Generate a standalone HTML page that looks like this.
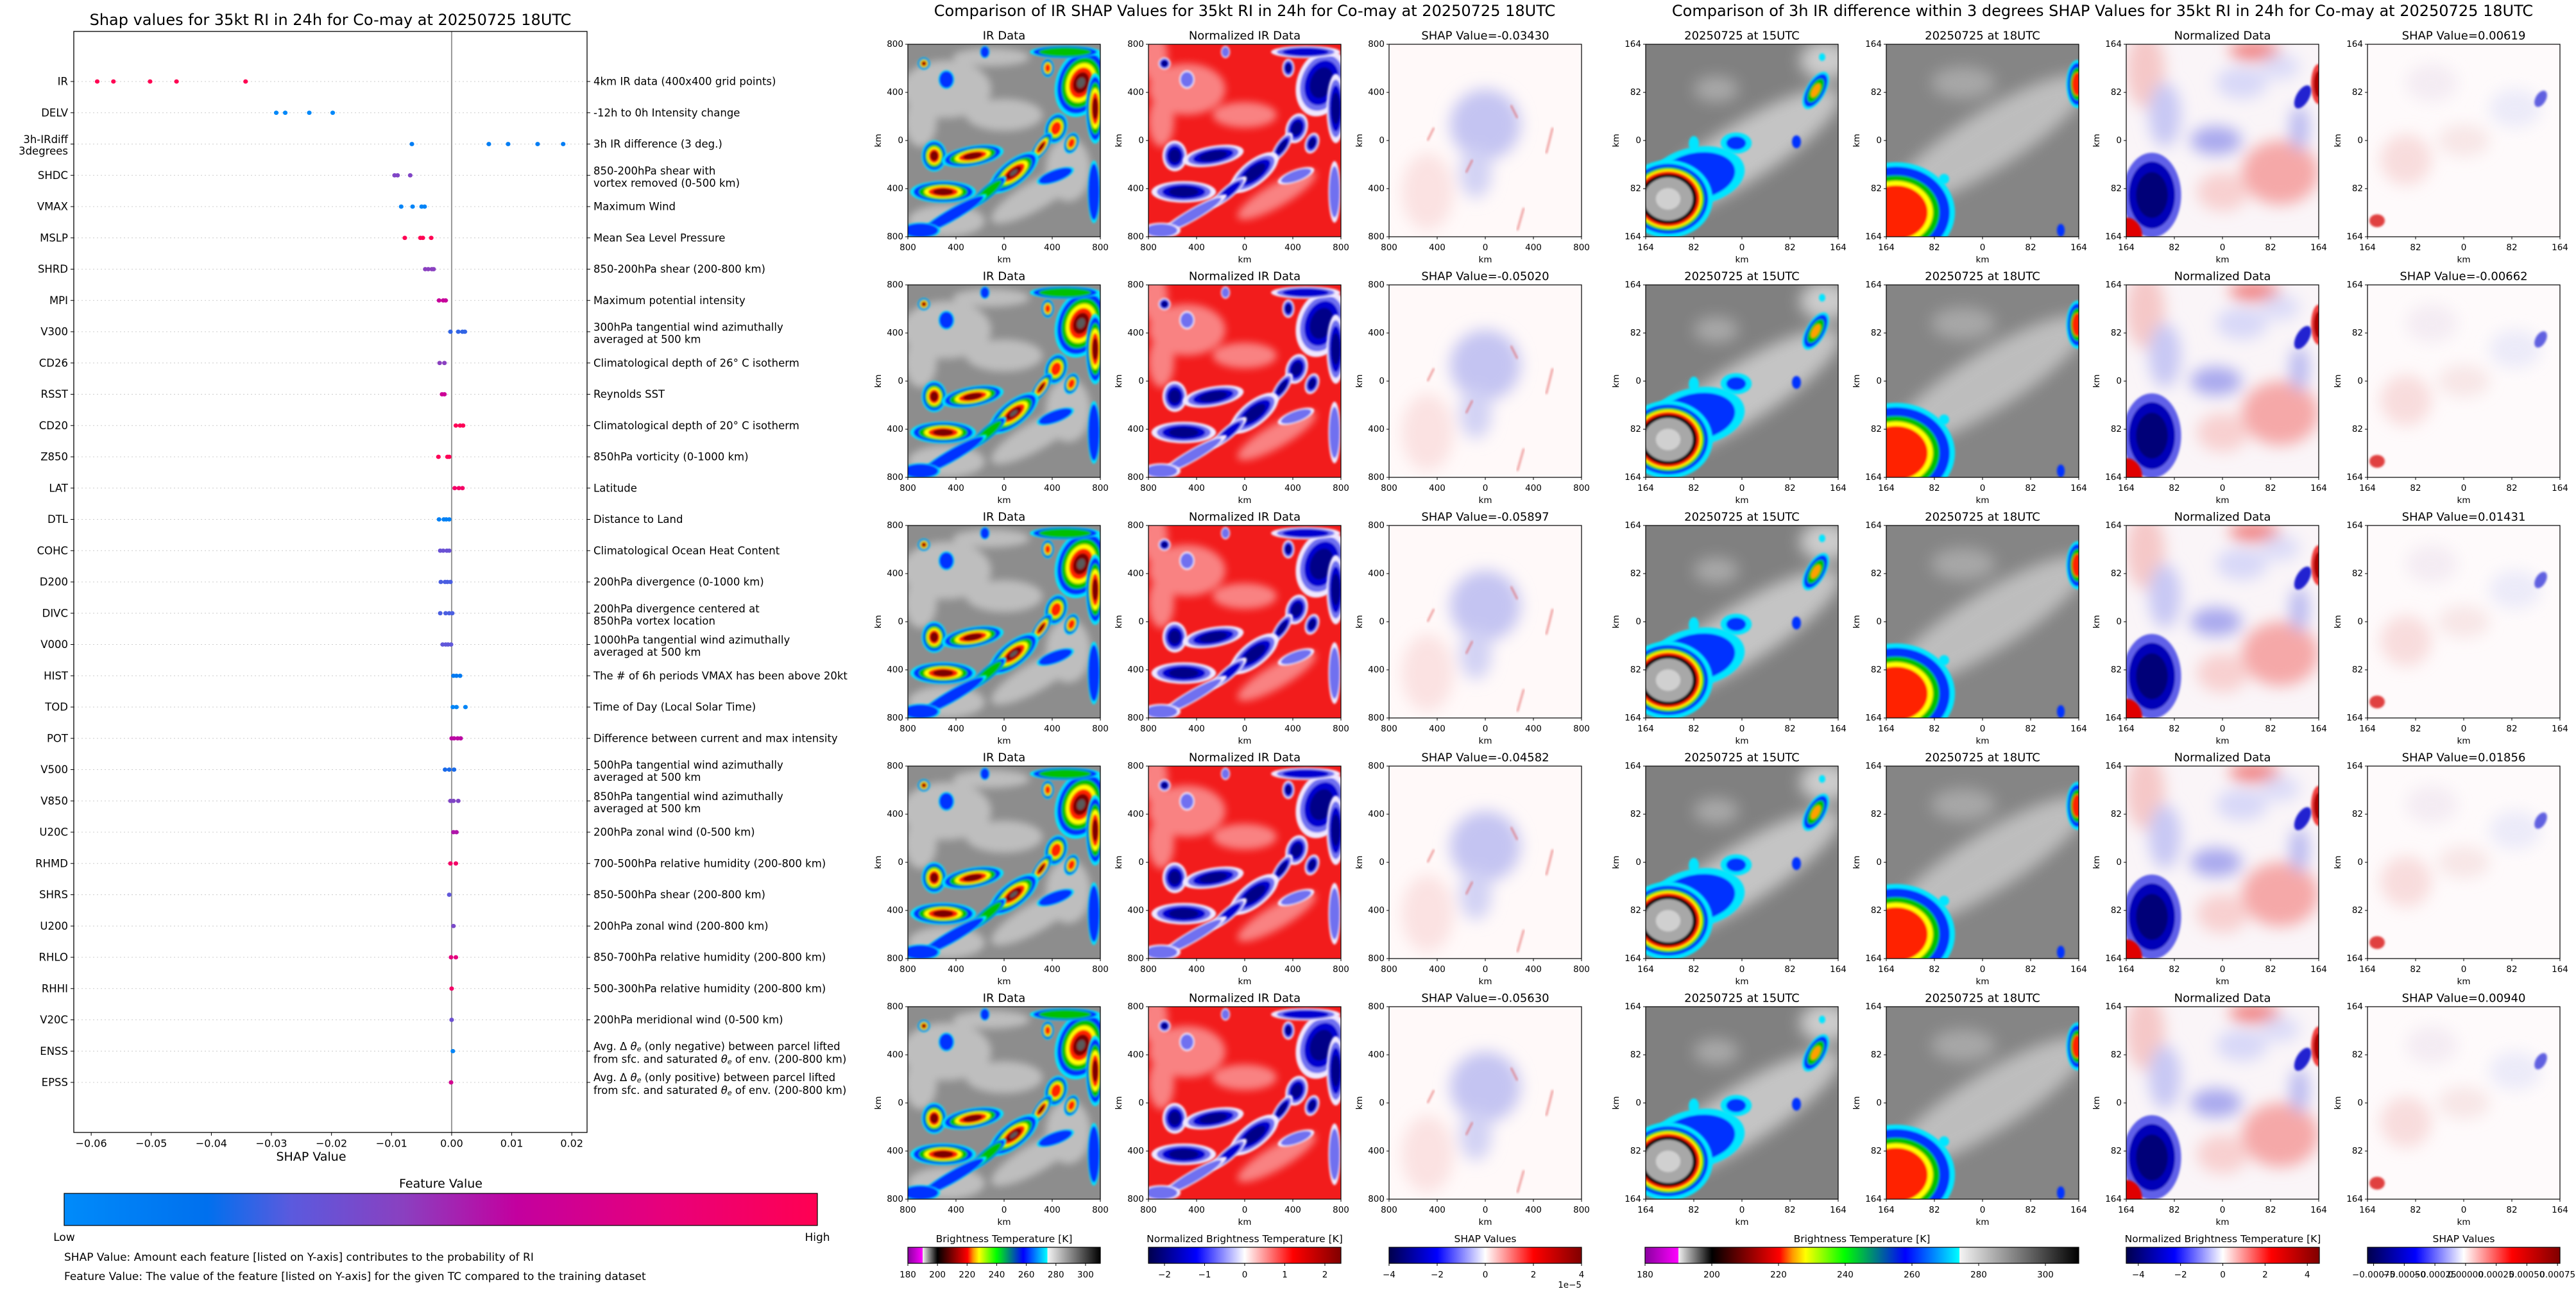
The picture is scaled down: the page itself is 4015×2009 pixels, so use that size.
<!DOCTYPE html>
<html><head><meta charset="utf-8"><title>SHAP RI</title>
<style>
html,body{margin:0;padding:0;background:#fff;}
svg{display:block;font-family:"DejaVu Sans","Liberation Sans",sans-serif;}
text{fill:#000;}
</style></head>
<body>
<svg id="fig" xmlns="http://www.w3.org/2000/svg" width="4015" height="2009" viewBox="0 0 4015 2009">
<defs>
<filter id="b2" x="-20%" y="-20%" width="140%" height="140%"><feGaussianBlur stdDeviation="1.5"/></filter>
<filter id="b6" x="-30%" y="-30%" width="160%" height="160%"><feGaussianBlur stdDeviation="6"/></filter>
<filter id="b12" x="-40%" y="-40%" width="180%" height="180%"><feGaussianBlur stdDeviation="12"/></filter>
<linearGradient id="g-feat" x1="0" x2="1" y1="0" y2="0">
<stop offset="0" stop-color="#008bfa"/><stop offset="0.19" stop-color="#0070ee"/><stop offset="0.3" stop-color="#5a5ade"/><stop offset="0.45" stop-color="#8a40c0"/><stop offset="0.6" stop-color="#c3009f"/><stop offset="0.8" stop-color="#e8007a"/><stop offset="1" stop-color="#ff0052"/>
</linearGradient>
<linearGradient id="g-bt" x1="0" x2="1" y1="0" y2="0">
<stop offset="0" stop-color="#8a00a0"/><stop offset="0.077" stop-color="#ff00ff"/><stop offset="0.077" stop-color="#f0f0f0"/><stop offset="0.154" stop-color="#000"/><stop offset="0.31" stop-color="#ff0000"/><stop offset="0.34" stop-color="#ff9900"/><stop offset="0.37" stop-color="#ffff00"/><stop offset="0.46" stop-color="#00ff00"/><stop offset="0.60" stop-color="#0000ff"/><stop offset="0.725" stop-color="#00ffff"/><stop offset="0.725" stop-color="#f4f4f4"/><stop offset="1" stop-color="#000"/>
</linearGradient>
<linearGradient id="g-seis" x1="0" x2="1" y1="0" y2="0">
<stop offset="0" stop-color="#00004c"/><stop offset="0.25" stop-color="#0000ff"/><stop offset="0.5" stop-color="#ffffff"/><stop offset="0.75" stop-color="#ff0000"/><stop offset="1" stop-color="#800000"/>
</linearGradient>
</defs>
<g id="root"></g>
</svg>
<script>
// ---------- Left SHAP summary chart data ----------
const features = ["IR","DELV","3h-IRdiff|3degrees","SHDC","VMAX","MSLP","SHRD","MPI","V300","CD26","RSST","CD20","Z850","LAT","DTL","COHC","D200","DIVC","V000","HIST","TOD","POT","V500","V850","U20C","RHMD","SHRS","U200","RHLO","RHHI","V20C","ENSS","EPSS"];
const descriptions = ["4km IR data (400x400 grid points)","-12h to 0h Intensity change","3h IR difference (3 deg.)","850-200hPa shear with|vortex removed (0-500 km)","Maximum Wind","Mean Sea Level Pressure","850-200hPa shear (200-800 km)","Maximum potential intensity","300hPa tangential wind azimuthally|averaged at 500 km","Climatological depth of 26° C isotherm","Reynolds SST","Climatological depth of 20° C isotherm","850hPa vorticity (0-1000 km)","Latitude","Distance to Land","Climatological Ocean Heat Content","200hPa divergence (0-1000 km)","200hPa divergence centered at|850hPa vortex location","1000hPa tangential wind azimuthally|averaged at 500 km","The # of 6h periods VMAX has been above 20kt","Time of Day (Local Solar Time)","Difference between current and max intensity","500hPa tangential wind azimuthally|averaged at 500 km","850hPa tangential wind azimuthally|averaged at 500 km","200hPa zonal wind (0-500 km)","700-500hPa relative humidity (200-800 km)","850-500hPa shear (200-800 km)","200hPa zonal wind (200-800 km)","850-700hPa relative humidity (200-800 km)","500-300hPa relative humidity (200-800 km)","200hPa meridional wind (0-500 km)","ENSS","EPSS"];
const shapValues = [
 [-0.0590,-0.0563,-0.0502,-0.0458,-0.0343],
 [-0.0292,-0.0277,-0.0237,-0.0198],
 [-0.00662,0.00619,0.00940,0.01431,0.01856],
 [-0.0095,-0.0090,-0.0069],
 [-0.0084,-0.0065,-0.0050,-0.0045],
 [-0.0078,-0.0052,-0.0048,-0.0034],
 [-0.0044,-0.0039,-0.0033,-0.0030],
 [-0.0021,-0.0014,-0.0010],
 [-0.0002,0.0011,0.0018,0.0022],
 [-0.0020,-0.0012],
 [-0.0016,-0.0012],
 [0.0007,0.0014,0.0019],
 [-0.0022,-0.0007,-0.0004],
 [0.0005,0.0012,0.0018],
 [-0.0021,-0.0013,-0.0009,-0.0004],
 [-0.0019,-0.0014,-0.0008,-0.0004],
 [-0.0018,-0.0011,-0.0007,-0.0002],
 [-0.0019,-0.0010,-0.0004,0.0001],
 [-0.0015,-0.0010,-0.0006,-0.0001],
 [0.0003,0.0008,0.0014],
 [0.0002,0.0008,0.0023],
 [0.0000,0.0004,0.0010,0.0015],
 [-0.0011,-0.0004,0.0004],
 [-0.0002,0.0003,0.0011],
 [0.0003,0.0008],
 [-0.0002,0.0007],
 [-0.0004],
 [0.0003],
 [-0.0001,0.0007],
 [0.0000],
 [0.0000],
 [0.0002],
 [-0.0001]
];
const featureLevels = [1.0,0.02,0.1,0.42,0.05,1.0,0.45,0.62,0.25,0.45,0.65,0.98,0.98,0.9,0.08,0.35,0.28,0.28,0.32,0.12,0.04,0.58,0.22,0.42,0.55,0.9,0.32,0.4,0.78,0.9,0.36,0.05,0.68];
const xTicks = [-0.06,-0.05,-0.04,-0.03,-0.02,-0.01,0.00,0.01,0.02];
const xTickLabels = ["\u22120.06","\u22120.05","\u22120.04","\u22120.03","\u22120.02","\u22120.01","0.00","0.01","0.02"];

// ---------- Panel titles / colorbar data ----------
const irShapTitles = ["-0.03430","-0.05020","-0.05897","-0.04582","-0.05630"];
const diffShapTitles = ["0.00619","-0.00662","0.01431","0.01856","0.00940"];
const btTicks = [180,200,220,240,260,280,300];
const normTicksMid = [-2,-1,0,1,2];
const shapTicksMid = [-4,-2,0,2,4];
const normTicksRight = [-4,-2,0,2,4];
const shapTicksRight = [-0.00075,-0.0005,-0.00025,0,0.00025,0.0005,0.00075];
const shapTickLabelsRight = ["\u22120.00075","\u22120.00050","\u22120.00025","0.00000","0.00025","0.00050","0.00075"];

const NS = "http://www.w3.org/2000/svg";
const root = document.getElementById("root");
const defs = document.querySelector("defs");
function el(tag, attrs, parent){
  const e = document.createElementNS(NS, tag);
  for (const k in attrs) e.setAttribute(k, attrs[k]);
  (parent||root).appendChild(e);
  return e;
}
function txt(x,y,s,size,anchor,parent,extra){
  const t = el("text",Object.assign({x:x,y:y,"font-size":size,"text-anchor":anchor||"middle","dominant-baseline":"central"},extra||{}),parent);
  t.textContent = s;
  return t;
}

// ================= LEFT CHART =================
const AX = {l:115, r:915, t:49, b:1765};
const xMin = -0.0629, xMax = 0.02254;
function xScale(v){ return AX.l + (v - xMin)/(xMax - xMin)*(AX.r-AX.l); }
const rowY0 = 127, rowStep = 48.75;
function yScale(i){ return rowY0 + i*rowStep; }
function featColor(f){
  const stops=[[0,[0,139,250]],[0.19,[0,112,238]],[0.3,[90,90,222]],[0.45,[138,64,192]],[0.6,[195,0,159]],[0.8,[232,0,122]],[1,[255,0,82]]];
  for(let i=1;i<stops.length;i++){ if(f<=stops[i][0]){const a=stops[i-1],b=stops[i];const t=(f-a[0])/(b[0]-a[0]);return "rgb("+a[1].map((c,j)=>Math.round(c+(b[1][j]-c)*t)).join(",")+")";}}
  return "rgb(255,0,82)";
}
const left = el("g",{});


const lt = txt((AX.l+AX.r)/2, 31, "Shap values for 35kt RI in 24h for Co-may at 20250725 18UTC", 24, "middle", left);



features.forEach((f,i)=>{
  const y = yScale(i);
  const gl = el("line",{x1:AX.l,x2:AX.r,y1:y,y2:y,stroke:"#cccccc","stroke-width":1,"stroke-dasharray":"2,4"},left);
  
  
});
const zl = el("line",{x1:xScale(0),x2:xScale(0),y1:AX.t,y2:AX.b,stroke:"#999999","stroke-width":2},left);


const fr = el("rect",{x:AX.l,y:AX.t,width:AX.r-AX.l,height:AX.b-AX.t,fill:"none",stroke:"#000","stroke-width":1.3},left);


shapValues.forEach((arr,i)=>{
  arr.forEach(v=>{
    const c = el("ellipse",{cx:xScale(v),cy:yScale(i),rx:3.6,ry:3.4,fill:featColor(featureLevels[i])},left);
    
    
  });
});
function thetaLine(parent,x,y,pre,post){
  const t = el("text",{x:x,y:y,"font-size":16.5,"text-anchor":"start","dominant-baseline":"central"},parent);
  const a=document.createElementNS(NS,"tspan"); a.textContent=pre; t.appendChild(a);
  const th=document.createElementNS(NS,"tspan"); th.setAttribute("font-style","italic"); th.textContent="θ"; t.appendChild(th);
  const sub=document.createElementNS(NS,"tspan"); sub.setAttribute("font-size","11"); sub.setAttribute("dy","4"); sub.setAttribute("font-style","italic"); sub.textContent="e"; t.appendChild(sub);
  const b=document.createElementNS(NS,"tspan"); b.setAttribute("dy","-4"); b.textContent=post; t.appendChild(b);
  return t;
}
features.forEach((f,i)=>{
  const y = yScale(i);
  el("line",{x1:AX.l-5,x2:AX.l,y1:y,y2:y,stroke:"#000","stroke-width":1},left);
  el("line",{x1:AX.r,x2:AX.r+5,y1:y,y2:y,stroke:"#000","stroke-width":1},left);
  const parts = f.split("|");
  if(parts.length===1){
    const t = txt(AX.l-9,y,f,16.5,"end",left);
    
    
  } else {
    const t1 = txt(AX.l-9,y-7,parts[0],16.5,"end",left);
    
    
    const t2 = txt(AX.l-9,y+11,parts[1],16.5,"end",left);
    
    
  }
  const d = descriptions[i];
  if(f==="ENSS"||f==="EPSS"){
    const kind = f==="ENSS"?"negative":"positive";
    const a = thetaLine(left,925,y-8,"Avg. Δ "," (only "+kind+") between parcel lifted");
    
    
    const b = thetaLine(left,925,y+12,"from sfc. and saturated "," of env. (200-800 km)");
    
    
  } else {
    const dp = d.split("|");
    if(dp.length===1){
      const t = txt(925,y,d,16.5,"start",left);
      
      
    } else {
      const t1 = txt(925,y-7,dp[0],16.5,"start",left);
      
      
      const t2 = txt(925,y+12,dp[1],16.5,"start",left);
      
      
    }
  }
});
xTicks.forEach((v,i)=>{
  const x = xScale(v);
  el("line",{x1:x,x2:x,y1:AX.b,y2:AX.b+5,stroke:"#000","stroke-width":1},left);
  const t = txt(x,AX.b+17,xTickLabels[i],16,"middle",left);
  
  
});
const xl = txt((AX.l+AX.r)/2-30,1803,"SHAP Value",19,"middle",left);


const fvt = txt(687,1845,"Feature Value",19,"middle",left);


const fcb = el("rect",{x:100,y:1860,width:1174,height:50,fill:"url(#g-feat)",stroke:"#000","stroke-width":1.2},left);


const lo = txt(100,1929,"Low",17,"middle",left);


const hi = txt(1274,1929,"High",17,"middle",left);


const n1 = txt(100,1960,"SHAP Value: Amount each feature [listed on Y-axis] contributes to the probability of RI",17,"start",left);


const n2 = txt(100,1990,"Feature Value: The value of the feature [listed on Y-axis] for the given TC compared to the training dataset",17,"start",left);



// ================= IMAGE SYMBOLS =================
function sym(id){ const s=document.createElementNS(NS,"symbol"); s.setAttribute("id",id); s.setAttribute("viewBox","0 0 300 300"); s.setAttribute("overflow","hidden"); defs.appendChild(s); return s; }
function storm(parent, cx,cy,rx,ry,rot,colors,scales){
  const g = el("g",{transform:"translate("+cx+","+cy+") rotate("+rot+")",filter:"url(#b2)"},parent);
  colors.forEach((c,k)=>{ el("ellipse",{cx:0,cy:0,rx:rx*scales[k],ry:ry*scales[k],fill:c},g); });
}
const irStorms = [
 [25,30,8,8,0,6],[270,60,32,45,20,7],[292,100,12,45,0,6],[231,131,14,20,20,5],[255,154,9,14,20,5],
 [208,160,8,22,35,6],[218,37,8,12,0,5],[165,200,38,16,-38,7],[125,230,30,8,-40,3],[41,174,16,20,0,6],
 [101,174,40,13,-10,6],[55,230,42,14,0,6],[70,265,50,8,-30,2],[20,290,25,10,0,2],[290,230,8,40,0,2],
 [230,205,25,8,-20,2],[60,55,10,12,0,2],[245,12,45,8,0,3],[120,12,6,8,0,2]
];
const irCols = ['#00e5ff','#0030ff','#00c000','#ffff00','#ff2000','#7a0000','#5a5a5a'];
const irSc = [1.22,1.1,0.9,0.7,0.55,0.38,0.18];
const sIR = sym("sym-ir");
el("rect",{x:0,y:0,width:300,height:300,fill:"#8d8d8d"},sIR);
const lp = el("g",{filter:"url(#b6)",opacity:0.75},sIR);
[[60,70,70,45,0],[150,110,60,25,0],[200,235,80,22,-30],[250,195,35,50,0],[60,275,60,25,0],[130,20,60,14,0],[20,120,25,40,0]].forEach(p=>el("ellipse",{cx:p[0],cy:p[1],rx:p[2],ry:p[3],transform:"rotate("+p[4]+" "+p[0]+" "+p[1]+")",fill:"#cfcfcf"},lp));
irStorms.forEach(s=>{ storm(sIR,s[0],s[1],s[2],s[3],s[4],irCols.slice(0,s[5]),irSc); });
const sNorm = sym("sym-norm");
el("rect",{x:0,y:0,width:300,height:300,fill:"#f21c1c"},sNorm);
const np = el("g",{filter:"url(#b6)",opacity:0.55},sNorm);
[[60,70,60,40,0],[150,110,50,20,0],[200,235,70,18,-30],[20,120,20,40,0],[10,20,20,40,0]].forEach(p=>el("ellipse",{cx:p[0],cy:p[1],rx:p[2],ry:p[3],transform:"rotate("+p[4]+" "+p[0]+" "+p[1]+")",fill:"#ffd6d6"},np));
const nCols = ['#f0e8ff','#7070f0','#0000d0','#000088'];
irStorms.forEach(s=>{ const n = s[5]>=5?4:(s[5]>=3?3:s[5]); storm(sNorm,s[0],s[1],s[2],s[3],s[4],nCols.slice(0,n),[1.2,1.0,0.8,0.55]); });
const sShap = sym("sym-shap");
el("rect",{x:0,y:0,width:300,height:300,fill:"#fff9f9"},sShap);
const sp = el("g",{filter:"url(#b12)"},sShap);
el("ellipse",{cx:150,cy:125,rx:55,ry:55,fill:"#c4c4f2"},sp);
el("ellipse",{cx:135,cy:200,rx:25,ry:40,fill:"#d2d2f4"},sp);
el("ellipse",{cx:60,cy:230,rx:40,ry:60,fill:"#fbe2e2"},sp);
[[245,170,255,130],[190,95,200,115],[60,150,70,130],[200,290,210,255],[120,200,130,180]].forEach(l=>el("line",{x1:l[0],y1:l[1],x2:l[2],y2:l[3],stroke:"#e04848","stroke-width":3,opacity:0.55,filter:"url(#b2)"},sShap));
const s15 = sym("sym-15");
el("rect",{x:0,y:0,width:300,height:300,fill:"#808080"},s15);
const g15 = el("g",{filter:"url(#b12)",opacity:0.8},s15);
el("ellipse",{cx:150,cy:170,rx:180,ry:45,transform:"rotate(-32 150 170)",fill:"#d6d6d6"},g15);
el("ellipse",{cx:280,cy:25,rx:40,ry:30,fill:"#e0e0e0"},g15);
el("ellipse",{cx:110,cy:70,rx:35,ry:20,fill:"#b4b4b4"},g15);
storm(s15,80,205,75,45,-10,['#00e5ff','#0030ff'],[1,0.8]);
storm(s15,35,241,48,42,0,['#00e5ff','#0030ff','#00c000','#ffff00','#ff2000','#000000','#a8a8a8','#d0d0d0'],[1.45,1.3,1.18,1.1,1.03,0.93,0.8,0.4]);
storm(s15,265,72,12,26,30,['#00e5ff','#0030ff','#00c000','#ffa000'],[1.25,1.1,0.8,0.45]);
storm(s15,141,154,22,15,0,['#00e5ff','#0030ff'],[1.1,0.7]);
storm(s15,235,152,7,10,0,['#0030ff'],[1]);
storm(s15,75,155,8,12,0,['#00e5ff'],[1]);
storm(s15,275,20,5,6,0,['#00e5ff'],[1]);
const s18 = sym("sym-18");
el("rect",{x:0,y:0,width:300,height:300,fill:"#858585"},s18);
const g18 = el("g",{filter:"url(#b12)",opacity:0.8},s18);
el("ellipse",{cx:160,cy:150,rx:180,ry:45,transform:"rotate(-32 160 150)",fill:"#cccccc"},g18);
el("ellipse",{cx:120,cy:60,rx:50,ry:25,fill:"#b0b0b0"},g18);
storm(s18,15,262,80,68,0,['#00e5ff','#0030ff','#00c000','#ffff00','#ff2000'],[1.15,1.05,0.85,0.72,0.62]);
storm(s18,298,62,14,30,0,['#00e5ff','#0030ff','#00c000','#ff2000'],[1.25,1.1,0.85,0.6]);
storm(s18,272,290,6,10,0,['#0030ff'],[1]);
storm(s18,90,210,8,8,0,['#00e5ff'],[1]);
const sN2 = sym("sym-norm2");
el("rect",{x:0,y:0,width:300,height:300,fill:"#faf5f8"},sN2);
const gn = el("g",{filter:"url(#b12)"},sN2);
[[240,200,60,50,"#f5a8a8"],[200,10,40,15,"#f08080"],[30,40,30,60,"#f5c8c8"],[150,230,40,30,"#f8d0d0"],[140,150,40,22,"#a8a8ee"],[60,110,25,50,"#c8c8f4"],[270,130,15,35,"#b8b8f0"],[180,60,40,25,"#d8d8f8"],[240,35,30,20,"#dcdcf8"]].forEach(p=>el("ellipse",{cx:p[0],cy:p[1],rx:p[2],ry:p[3],fill:p[4]},gn));
storm(sN2,40,235,38,55,0,['#6060e8','#0000b8','#000078'],[1.2,0.95,0.65]);
storm(sN2,0,300,25,30,0,['#e00000'],[1]);
storm(sN2,300,62,10,26,0,['#f04040','#b00000'],[1.2,0.8]);
storm(sN2,275,82,10,20,30,['#2020d0'],[1]);
const sS2 = sym("sym-shap2");
el("rect",{x:0,y:0,width:300,height:300,fill:"#fefafb"},sS2);
const gs = el("g",{filter:"url(#b12)",opacity:0.7},sS2);
[[60,180,40,40,"#f6d0d0"],[150,150,40,25,"#f4dede"],[230,100,40,30,"#e4e4f8"],[100,60,40,30,"#f0e6f0"]].forEach(p=>el("ellipse",{cx:p[0],cy:p[1],rx:p[2],ry:p[3],fill:p[4]},gs));
storm(sS2,270,85,8,14,30,['#6060e0'],[1]);
storm(sS2,15,275,12,10,0,['#e04040'],[1]);

// ================= PANEL GRID =================
const midX = [1415,1790,2165], rightX = [2565,2940,3314,3690], rowY = [69,444,819,1194,1569], P = 300;
const midSyms = ["sym-ir","sym-norm","sym-shap"], rightSyms = ["sym-15","sym-18","sym-norm2","sym-shap2"];
const midTick = ["800","400","0","400","800"], rightTick = ["164","82","0","82","164"];
function panel(x,y,symId,title,ticks,name){
  const g = el("g",{});
  
  
  el("use",{href:"#"+symId,x:x,y:y,width:P,height:P},g);
  el("rect",{x:x,y:y,width:P,height:P,fill:"none",stroke:"#000","stroke-width":1.2},g);
  const t = txt(x+P/2,y-13,title,18,"middle",g);
  
  
  for(let k=0;k<5;k++){
    const yy=y+k*P/4, xx=x+k*P/4;
    el("line",{x1:x-4,x2:x,y1:yy,y2:yy,stroke:"#000","stroke-width":1},g);
    el("line",{x1:xx,x2:xx,y1:y+P,y2:y+P+4,stroke:"#000","stroke-width":1},g);
    txt(x-7,yy,ticks[k],13.5,"end",g);
    txt(xx,y+P+17,ticks[k],13.5,"middle",g);
  }
  txt(x+P/2,y+P+36,"km",13.5,"middle",g);
  txt(x-46,y+P/2,"km",13.5,"middle",g,{transform:"rotate(-90 "+(x-46)+" "+(y+P/2)+")"});
}
rowY.forEach((y,r)=>{
  panel(midX[0],y,midSyms[0],"IR Data",midTick,"ir-data-panel");
  panel(midX[1],y,midSyms[1],"Normalized IR Data",midTick,"normalized-ir-panel");
  panel(midX[2],y,midSyms[2],"SHAP Value="+irShapTitles[r],midTick,"ir-shap-panel");
  panel(rightX[0],y,rightSyms[0],"20250725 at 15UTC",rightTick,"ir-15utc-panel");
  panel(rightX[1],y,rightSyms[1],"20250725 at 18UTC",rightTick,"ir-18utc-panel");
  panel(rightX[2],y,rightSyms[2],"Normalized Data",rightTick,"normalized-diff-panel");
  panel(rightX[3],y,rightSyms[3],"SHAP Value="+diffShapTitles[r],rightTick,"diff-shap-panel");
});
const st1 = txt(1940,17,"Comparison of IR SHAP Values for 35kt RI in 24h for Co-may at 20250725 18UTC",24,"middle");


const st2 = txt(3277,17,"Comparison of 3h IR difference within 3 degrees SHAP Values for 35kt RI in 24h for Co-may at 20250725 18UTC",24,"middle");



// ================= COLORBARS =================
function cbar(x0,x1,grad,title,vmin,vmax,ticks,labels,name){
  const g = el("g",{});
  
  
  txt((x0+x1)/2,1931,title,15.5,"middle",g);
  el("rect",{x:x0,y:1944,width:x1-x0,height:25,fill:"url(#"+grad+")",stroke:"#000","stroke-width":1.2},g);
  ticks.forEach((v,i)=>{
    const x = x0+(v-vmin)/(vmax-vmin)*(x1-x0);
    el("line",{x1:x,x2:x,y1:1969,y2:1973,stroke:"#000","stroke-width":1},g);
    txt(x,1987,labels[i],13.5,"middle",g);
  });
}
const fmt = a=>a.map(v=>v<0?"\u2212"+Math.abs(v):String(v));
cbar(1415,1715,"g-bt","Brightness Temperature [K]",180,310,btTicks,btTicks.map(String),"bt-colorbar-mid");
cbar(1790,2090,"g-seis","Normalized Brightness Temperature [K]",-2.4,2.4,normTicksMid,fmt(normTicksMid),"norm-colorbar-mid");
cbar(2165,2465,"g-seis","SHAP Values",-4,4,shapTicksMid,fmt(shapTicksMid),"shap-colorbar-mid");
const ex = txt(2465,2003,"1e\u22125",13.5,"end");


cbar(2564,3240,"g-bt","Brightness Temperature [K]",180,310,btTicks,btTicks.map(String),"bt-colorbar-right");
cbar(3314,3615,"g-seis","Normalized Brightness Temperature [K]",-4.57,4.57,normTicksRight,fmt(normTicksRight),"norm-colorbar-right");
cbar(3690,3990,"g-seis","SHAP Values",-0.0008,0.00077,shapTicksRight,shapTickLabelsRight,"shap-colorbar-right");
</script>
</body></html>
